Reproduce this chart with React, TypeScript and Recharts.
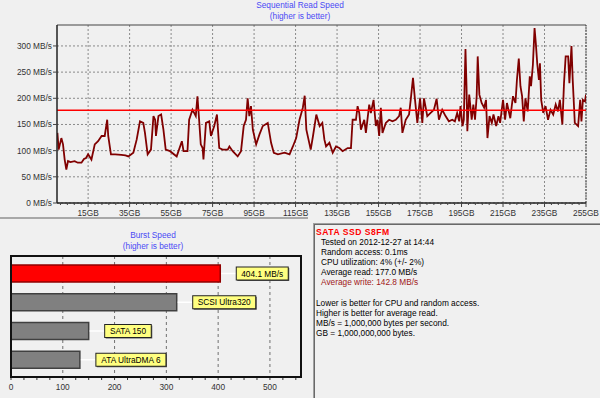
import React from 'react';
import {
  LineChart, Line, XAxis, YAxis, CartesianGrid, ReferenceLine,
  BarChart, Bar, Cell, LabelList,
} from 'recharts';

const FONT = '"Liberation Sans", Arial, Helvetica, sans-serif';
const FS = 8.3;

// ---------- Sequential read (top chart) ----------
const positionsGB = [
  0.2, 0.8, 2.1, 2.9, 3.7, 4.5, 5.3, 6.5, 8.5, 10,
  11.8, 13, 14, 15, 16.6, 18.2, 19.8, 21.5, 23, 24.2,
  24.7, 26, 28, 31, 33, 34.4, 36.8, 38.4, 40, 41.6,
  42.4, 43.7, 45.3, 46.5, 47.3, 47.7, 48.9, 50.2, 51.3, 52.4,
  54.5, 57.7, 60.2, 61, 62.9,
  63.7, 65.3, 66.1, 66.9, 67.7, 68.5, 69.3, 70.2, 70.6, 71.8,
  73.4, 74.2, 75.8, 77.1, 78.2, 79.8, 82.3, 83.1, 84.7, 87.1,
  88.7, 90, 91.1, 91.9, 92.7, 93.5, 94.4, 96, 97.6, 99.2,
  101.6, 103.2, 104.5, 106.5, 109.7, 112.1, 113.7, 115.3, 116.9, 118.5,
  119.4, 120.2, 122.3, 123.4, 125, 126.6, 127.9,
  128.9, 129.7, 131.3, 132.9, 134.5, 136.1, 137.7, 140.1, 141.7, 142.5,
  144.1, 144.9, 145.7, 146.5, 148.1, 148.9, 150.5, 151.3, 152.6, 153.7,
  154.5, 155.3, 156.1, 156.9, 158.5, 160.1, 161.7, 163.3, 164.9, 165.7,
  166.5, 168.1, 169.7, 170.5, 171.6, 172.4, 173.7, 175, 176.1, 176.9,
  178.5, 180.1, 181.7, 183, 184.1, 185.7, 187.3, 188.9, 190.5,
  191.8, 192.9, 193.9, 194.5, 195.5, 196.1, 196.9, 197.4, 197.8, 198.7,
  199.9, 200.7, 201.5, 202.3, 202.8, 203.6, 204.7, 205.9, 206.8, 207.5,
  208.5, 209.6, 210.4, 211.7, 212.8, 213.6, 215, 216, 216.9, 218.5,
  219.8, 221, 221.7, 222.6, 223.4, 224.2, 225, 225.8, 226.9, 227.9,
  228.5, 229.4, 230.2, 230.8, 231.5, 232.3, 232.8, 233.4, 234.4, 235.5,
  236.7, 237.9, 239.2, 240.4, 241.5, 242.4, 243.6, 244.4, 245.2, 246.4,
  247, 248, 248.6, 249.6, 251.2, 252.2, 252.8, 253.5, 254.5, 255,
];

const readMBs = [
  134, 102, 124, 112, 83, 64, 80, 78, 80, 77,
  77, 84, 86, 93, 83, 112, 118, 128, 128, 159,
  128, 93, 93, 92, 91, 89, 96, 121, 156, 153,
  134, 93, 102, 166, 159, 128, 166, 169, 140, 102,
  99, 89, 118, 99, 99,
  159, 178, 172, 166, 204, 159, 112, 105, 83, 153,
  156, 128, 147, 169, 105, 102, 102, 108, 99, 89,
  99, 147, 159, 200, 166, 185, 140, 112, 131, 147,
  153, 115, 96, 93, 96, 93, 108, 124, 159, 182,
  205, 140, 102, 128, 169, 147, 153,
  121, 108, 115, 96, 108, 105, 99, 105, 105, 159,
  159, 185, 172, 140, 159, 134, 188, 172, 197, 147,
  159, 128, 182, 134, 153, 159, 156, 159, 166, 182,
  134, 159, 169, 197, 239, 204, 153, 200, 153, 200,
  166, 172, 178, 199, 159, 178, 166, 156, 159,
  156, 172, 156, 185, 147, 159, 294, 223, 137, 207,
  159, 188, 159, 204, 280, 207, 191, 182, 197, 124,
  166, 153, 169, 147, 166, 153, 197, 159, 191, 162,
  204, 191, 235, 276, 223, 204, 156, 200, 175, 242,
  223, 264, 334, 306, 266, 235, 267, 197, 172, 185,
  159, 178, 169, 188, 175, 197, 150, 229, 280, 280,
  229, 300, 235, 153, 147, 197, 156, 197, 194, 207,
];

const averageRead = 177.0;
const speedTicks = [0, 50, 100, 150, 200, 250, 300];
const speedMax = 340;
const gbMax = 255;
const gbMajorTicks = [15, 35, 55, 75, 95, 115, 135, 155, 175, 195, 215, 235, 255];

// ---------- Burst speed (bottom chart) ----------
const burstNames = ['SATA SSD S8FM', 'SCSI Ultra320', 'SATA 150', 'ATA UltraDMA 6'];
const burstValues = [404.1, 320, 150, 133];
const burstLabels = ['404.1 MB/s', 'SCSI Ultra320', 'SATA 150', 'ATA UltraDMA 6'];
const burstColors = ['#ff0000', '#808080', '#808080', '#808080'];
const burstStrokes = ['#900000', '#404040', '#404040', '#404040'];
const burstMajorTicks = [0, 100, 200, 300, 400, 500];
const burstMax = 560;

// ---------- Info panel ----------
const driveName = 'SATA SSD S8FM';
const infoLines = [
  'Tested on 2012-12-27 at 14:44',
  'Random access: 0.1ms',
  'CPU utilization: 4% (+/- 2%)',
  'Average read: 177.0 MB/s',
];
const writeLine = 'Average write: 142.8 MB/s';
const noteLines = [
  'Lower is better for CPU and random access.',
  'Higher is better for average read.',
  'MB/s = 1,000,000 bytes per second.',
  'GB = 1,000,000,000 bytes.',
];

// derived tables
const readData = positionsGB.map((gb, i) => ({ gb, speed: readMBs[i] }));
const burstData = burstNames.map((name, i) => ({ name, value: burstValues[i], label: burstLabels[i] }));

const gbMinorTicks: number[] = [];
for (let k = -4; k * 10 / 3 + 15 <= gbMax; k++) {
  const v = 15 + (k * 10) / 3;
  if (v > 0 && !gbMajorTicks.some((t) => Math.abs(t - v) < 1e-6)) gbMinorTicks.push(v);
}
const gbAllTicks = [...gbMajorTicks, ...gbMinorTicks].sort((a, b) => a - b);

const burstMinorTicks: number[] = [];
for (let v = 25; v <= 550; v += 25) if (v % 100 !== 0) burstMinorTicks.push(v);
const burstAllTicks = [...burstMajorTicks, ...burstMinorTicks].sort((a, b) => a - b);
const burstGridValues = burstMajorTicks.filter((v) => v > 0);

let measureCtx: CanvasRenderingContext2D | null = null;
function measure(s: string): number {
  if (typeof document !== 'undefined') {
    if (!measureCtx) measureCtx = document.createElement('canvas').getContext('2d');
    if (measureCtx) {
      measureCtx.font = `${FS}px "Liberation Sans"`;
      return measureCtx.measureText(s).width;
    }
  }
  return s.length * 4.4;
}

const GbTick = (props: any) => {
  const { x, y, payload } = props;
  const v = payload.value;
  const major = gbMajorTicks.some((t) => Math.abs(t - v) < 1e-6);
  return (
    <g>
      <line x1={x} x2={x} y1={y} y2={y + (major ? 4 : 2)} stroke="#444" strokeWidth={1} />
      {major && (
        <text x={x} y={y + 7.5} dy="0.71em" textAnchor="middle" fontSize={FS} fontFamily={FONT} fill="#333">
          {`${v}GB`}
        </text>
      )}
    </g>
  );
};

const SpeedTick = (props: any) => {
  const { x, y, payload } = props;
  return (
    <text x={x} y={y} dy="0.36em" textAnchor="end" fontSize={FS} fontFamily={FONT} fill="#333">
      {`${payload.value} MB/s`}
    </text>
  );
};

const BurstTick = (props: any) => {
  const { x, y, payload } = props;
  const v = payload.value;
  const major = burstMajorTicks.includes(v);
  return (
    <g>
      <line x1={x} x2={x} y1={y} y2={y + 3} stroke="#333" strokeWidth={1} />
      {major && (
        <text x={x} y={y + 7} dy="0.71em" textAnchor="middle" fontSize={FS} fontFamily={FONT} fill="#333">
          {v}
        </text>
      )}
    </g>
  );
};

const BurstLabel = (props: any) => {
  const { x, y, width, height, value } = props;
  const endX = Number(x) + Number(width);
  const cy = Number(y) + Number(height) / 2;
  const text = String(value);
  const tw = measure(text);
  const bx = endX + 16;
  const bw = tw + 10;
  return (
    <g>
      <line x1={endX + 1} x2={bx} y1={cy} y2={cy} stroke="#ffffff" strokeWidth={1.5} />
      <rect x={bx + 1} y={cy - 5.5} width={bw} height={13} fill="#555" />
      <rect x={bx} y={cy - 6.5} width={bw} height={13} fill="#ffff80" stroke="#222" strokeWidth={1} />
      <text x={bx + bw / 2} y={cy + 0.3} dy="0.35em" textAnchor="middle" fontSize={FS} fontFamily={FONT} fill="#000">
        {text}
      </text>
    </g>
  );
};

const textStyle: React.CSSProperties = {
  fontFamily: FONT,
  fontSize: FS,
  lineHeight: '10.1px',
  whiteSpace: 'nowrap',
  margin: 0,
};

export default function App() {
  return (
    <div
      style={{
        position: 'relative',
        width: 600,
        height: 398,
        background: '#f0f0f0',
        overflow: 'hidden',
        fontFamily: FONT,
      }}
    >
      <style>{'body{margin:0;background:#f0f0f0}'}</style>

      {/* top titles */}
      <div style={{ ...textStyle, position: 'absolute', left: 0, top: 0, width: 600, textAlign: 'center', color: '#4a4af5', lineHeight: '11px' }}>
        Sequential Read Speed
      </div>
      <div style={{ ...textStyle, position: 'absolute', left: 0, top: 11, width: 600, textAlign: 'center', color: '#4a4af5', lineHeight: '11px' }}>
        (higher is better)
      </div>

      <div style={{ position: 'absolute', left: 0, top: 0 }}>
        <LineChart width={600} height={220} data={readData} margin={{ top: 25, right: 14, bottom: 0, left: 0 }}>
          <CartesianGrid
            stroke="#8a8a8a"
            strokeDasharray="2 2"
            verticalValues={gbMajorTicks}
            horizontalValues={speedTicks}
          />
          <XAxis
            dataKey="gb"
            type="number"
            domain={[0, gbMax]}
            ticks={gbAllTicks}
            interval={0}
            tickLine={false}
            tickSize={0}
            tickMargin={0}
            height={17}
            axisLine={{ stroke: '#222', strokeWidth: 1.5 }}
            tick={(p: any) => <GbTick {...p} />}
            allowDataOverflow
          />
          <YAxis
            type="number"
            domain={[0, speedMax]}
            ticks={speedTicks}
            interval={0}
            width={57}
            tickSize={4}
            tickMargin={1}
            tick={(p: any) => <SpeedTick {...p} />}
            tickLine={{ stroke: '#444' }}
            axisLine={{ stroke: '#222', strokeWidth: 1.5 }}
            allowDataOverflow
          />
          <ReferenceLine y={speedMax} stroke="#444" strokeWidth={1.2} />
          <ReferenceLine x={gbMax} stroke="#444" strokeWidth={1} strokeDasharray="2 1" />
          <Line
            dataKey="speed"
            type="linear"
            stroke="#800000"
            strokeWidth={1.8}
            dot={false}
            activeDot={false}
            isAnimationActive={false}
          />
          <ReferenceLine y={averageRead} stroke="#ff0000" strokeWidth={1.5} />
        </LineChart>
      </div>

      {/* separator for lower left panel */}
      <div style={{ position: 'absolute', left: 0, top: 217, width: 308, height: 2, background: '#a8a8a8' }} />

      {/* burst titles */}
      <div style={{ ...textStyle, position: 'absolute', left: 0, top: 230, width: 306, textAlign: 'center', color: '#4a4af5', lineHeight: '11px' }}>
        Burst Speed
      </div>
      <div style={{ ...textStyle, position: 'absolute', left: 0, top: 241, width: 306, textAlign: 'center', color: '#4a4af5', lineHeight: '11px' }}>
        (higher is better)
      </div>

      <div style={{ position: 'absolute', left: 0, top: 220 }}>
        <BarChart
          layout="vertical"
          width={310}
          height={178}
          data={burstData}
          margin={{ top: 36, right: 9, bottom: 0, left: 11 }}
        >
          <CartesianGrid horizontal={false} stroke="#707070" strokeDasharray="3 3" verticalValues={burstGridValues} />
          <XAxis
            type="number"
            domain={[0, burstMax]}
            ticks={burstAllTicks}
            interval={0}
            tickLine={false}
            tickSize={0}
            tickMargin={0}
            height={21}
            axisLine={false}
            tick={(p: any) => <BurstTick {...p} />}
            allowDataOverflow
          />
          <YAxis type="category" dataKey="name" hide width={0} padding={{ top: 3, bottom: 3 }} />
          <Bar dataKey="value" barSize={17} isAnimationActive={false}>
            {burstData.map((d, i) => (
              <Cell key={d.name} fill={burstColors[i]} stroke={burstStrokes[i]} strokeWidth={1.5} />
            ))}
            <LabelList dataKey="label" content={(p: any) => <BurstLabel {...p} />} />
          </Bar>
        </BarChart>
      </div>

      {/* bottom plot frame */}
      <div
        style={{
          position: 'absolute',
          left: 10,
          top: 255,
          width: 292,
          height: 123,
          boxSizing: 'border-box',
          border: '2px solid #111',
          pointerEvents: 'none',
        }}
      />

      {/* info panel */}
      <div
        style={{
          position: 'absolute',
          left: 313,
          top: 223,
          width: 300,
          height: 200,
          boxSizing: 'border-box',
          borderTop: '1px solid #a0a0a0',
          borderLeft: '1px solid #a0a0a0',
          boxShadow: 'inset 1px 1px 0 #696969',
        }}
      >
        <div style={{ position: 'absolute', left: 2, top: 3 }}>
          <div style={{ ...textStyle, color: '#ff0000', fontWeight: 'bold', fontSize: 8.6, letterSpacing: '0.5px' }}>{driveName}</div>
          {infoLines.map((l) => (
            <div key={l} style={{ ...textStyle, color: '#000', paddingLeft: 5 }}>{l}</div>
          ))}
          <div style={{ ...textStyle, color: '#a01818', paddingLeft: 5 }}>{writeLine}</div>
          <div style={{ ...textStyle, height: '10.1px' }} />
          {noteLines.map((l) => (
            <div key={l} style={{ ...textStyle, color: '#000' }}>{l}</div>
          ))}
        </div>
      </div>
    </div>
  );
}
